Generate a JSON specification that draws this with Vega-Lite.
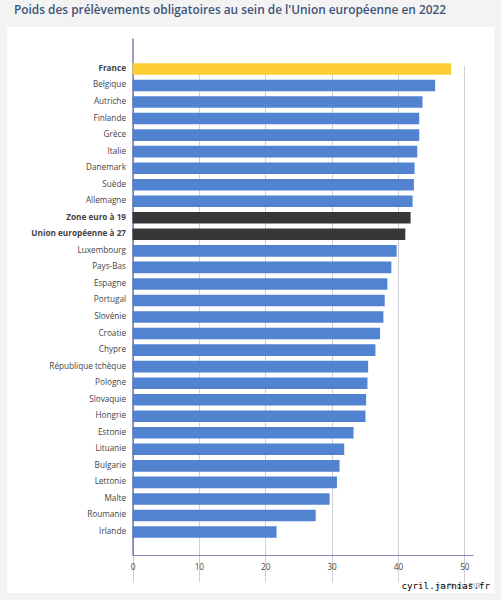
{"$schema":"https://vega.github.io/schema/vega-lite/v6.json","width":487,"height":566,"autosize":{"type":"none"},"padding":{"left":7,"top":27,"right":7,"bottom":7},"background":"#f3f3f4","view":{"fill":"#ffffff","stroke":null},
"title":{"text":"Poids des prélèvements obligatoires au sein de l'Union européenne en 2022","anchor":"start","frame":"group","dx":7,"offset":10,"font":"Open Sans","fontSize":11.87,"fontWeight":600,"color":"#3e5378"},
"data":{"values":[
{"pays":"France","valeur":48.0,"groupe":"France"},{"pays":"Belgique","valeur":45.6,"groupe":"Pays"},{"pays":"Autriche","valeur":43.7,"groupe":"Pays"},{"pays":"Finlande","valeur":43.2,"groupe":"Pays"},{"pays":"Grèce","valeur":43.2,"groupe":"Pays"},{"pays":"Italie","valeur":42.9,"groupe":"Pays"},{"pays":"Danemark","valeur":42.5,"groupe":"Pays"},{"pays":"Suède","valeur":42.4,"groupe":"Pays"},{"pays":"Allemagne","valeur":42.2,"groupe":"Pays"},{"pays":"Zone euro à 19","valeur":41.9,"groupe":"Agrégat"},{"pays":"Union européenne à 27","valeur":41.1,"groupe":"Agrégat"},{"pays":"Luxembourg","valeur":39.8,"groupe":"Pays"},{"pays":"Pays-Bas","valeur":39.0,"groupe":"Pays"},{"pays":"Espagne","valeur":38.4,"groupe":"Pays"},{"pays":"Portugal","valeur":38.0,"groupe":"Pays"},{"pays":"Slovénie","valeur":37.8,"groupe":"Pays"},{"pays":"Croatie","valeur":37.3,"groupe":"Pays"},{"pays":"Chypre","valeur":36.6,"groupe":"Pays"},{"pays":"République tchèque","valeur":35.5,"groupe":"Pays"},{"pays":"Pologne","valeur":35.4,"groupe":"Pays"},{"pays":"Slovaquie","valeur":35.2,"groupe":"Pays"},{"pays":"Hongrie","valeur":35.1,"groupe":"Pays"},{"pays":"Estonie","valeur":33.3,"groupe":"Pays"},{"pays":"Lituanie","valeur":31.9,"groupe":"Pays"},{"pays":"Bulgarie","valeur":31.2,"groupe":"Pays"},{"pays":"Lettonie","valeur":30.8,"groupe":"Pays"},{"pays":"Malte","valeur":29.7,"groupe":"Pays"},{"pays":"Roumanie","valeur":27.6,"groupe":"Pays"},{"pays":"Irlande","valeur":21.7,"groupe":"Pays"}]},
"mark":{"type":"bar","opacity":0.98},
"encoding":{
"y":{"field":"pays","type":"nominal","sort":null,"scale":{"domain":[" ","France","Belgique","Autriche","Finlande","Grèce","Italie","Danemark","Suède","Allemagne","Zone euro à 19","Union européenne à 27","Luxembourg","Pays-Bas","Espagne","Portugal","Slovénie","Croatie","Chypre","République tchèque","Pologne","Slovaquie","Hongrie","Estonie","Lituanie","Bulgarie","Lettonie","Malte","Roumanie","Irlande","  "],"range":[11,528],"paddingInner":0.3,"paddingOuter":0.28,"align":0.93},
"axis":{"offset":-125.5,"title":"cyril.jarnias.fr","titleAngle":0,"titleFont":"DejaVu Sans Mono","titleFontSize":9.2,"titleFontWeight":"normal","titleColor":"#000000","titleAlign":"right","titleBaseline":"middle","titleX":357,"titleY":558,"domainColor":"#3b3a8c","domainWidth":1,"ticks":false,"labelPadding":7,"labelFont":"Open Sans","labelFontSize":8.2,"labelColor":"#444444","labelLimit":200,"grid":false,"labelFontWeight":{"condition":{"test":"indexof(['France','Zone euro à 19','Union européenne à 27'],datum.value)>=0","value":"bold"},"value":"normal"}}},
"x":{"field":"valeur","type":"quantitative","scale":{"domain":[0,51.3],"range":[125.5,466],"nice":false,"zero":true},
"axis":{"offset":-38,"values":[0,10,20,30,40,50],"labelFlush":false,"title":"en % du PIB","titleFont":"Open Sans","titleFontSize":8,"titleFontWeight":"normal","titleColor":"#999999","titleAnchor":"end","titleAlign":"right","titleX":473,"titleY":26,"domainColor":"#8a85c4","domainWidth":1.2,"tickColor":"#c8c8d0","tickSize":4,"labelPadding":4,"labelFont":"Open Sans","labelFontSize":8.2,"labelColor":"#444444","grid":true,"gridColor":"#cfcfd4","gridWidth":1}},
"color":{"field":"groupe","type":"nominal","legend":null,"scale":{"domain":["France","Pays","Agrégat"],"range":["#fdcd2f","#4f81d0","#333333"]}}}}
